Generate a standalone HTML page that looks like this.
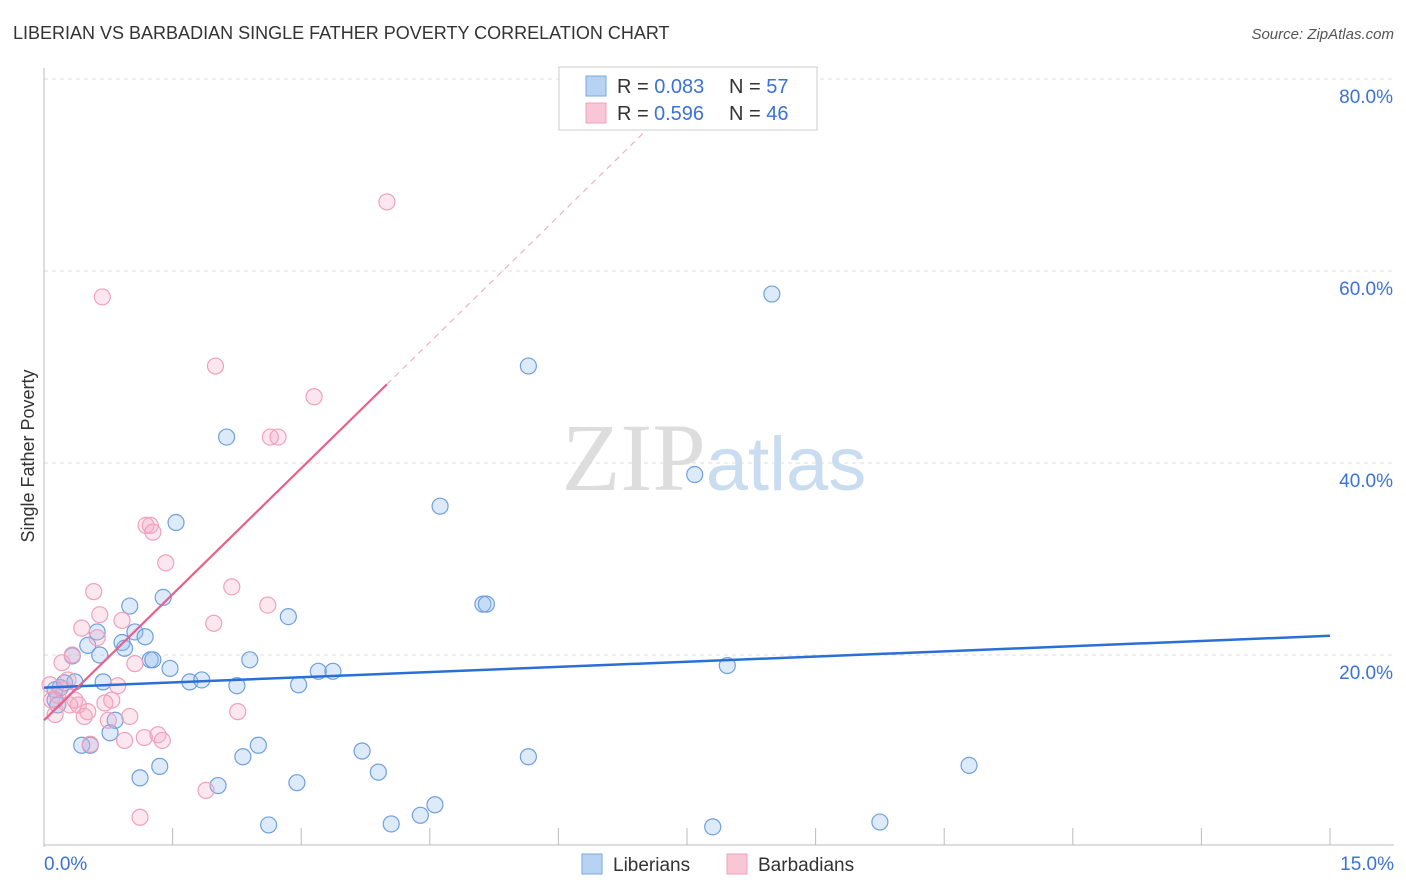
<!DOCTYPE html>
<html><head><meta charset="utf-8"><style>
body{margin:0;background:#fff;font-family:"Liberation Sans",sans-serif;}
svg{display:block}
</style></head><body>
<svg id="chart" width="1406" height="892" xmlns="http://www.w3.org/2000/svg">
<text x="13" y="39" font-size="18" fill="#333" font-family="Liberation Sans">LIBERIAN VS BARBADIAN SINGLE FATHER POVERTY CORRELATION CHART</text>
<text x="1394" y="39" font-size="15" fill="#555" text-anchor="end" font-style="italic">Source: ZipAtlas.com</text>
<text x="714" y="490" font-size="96" text-anchor="middle" fill="#ddd" font-family="Liberation Serif">ZIP<tspan fill="#c9dcf0" font-family="Liberation Sans" font-size="76">atlas</tspan></text>
<g id="grid"></g><g id="axes"></g><g id="marks"></g>
<text transform="translate(34,456) rotate(-90)" font-size="18" fill="#333" text-anchor="middle">Single Father Poverty</text>
<g>
<rect x="559" y="67" width="258" height="63" fill="#fff" stroke="#ccc"/>
<rect x="586" y="76" width="20" height="20" fill="#b8d2f4" stroke="#7aa8e0"/>
<rect x="586" y="103" width="20" height="20" fill="#f9c6d6" stroke="#f0a0bc"/>
<text x="617" y="93" font-size="20" fill="#333">R = <tspan fill="#3a72d8">0.083</tspan><tspan x="729">N = </tspan><tspan fill="#3a72d8">57</tspan></text>
<text x="617" y="120" font-size="20" fill="#333">R = <tspan fill="#3a72d8" x="654">0.596</tspan><tspan x="729">N = </tspan><tspan fill="#3a72d8">46</tspan></text>
</g>
<g><rect x="582" y="854" width="20" height="20" fill="#b8d2f4" stroke="#7aa8e0"/><text x="613" y="871" font-size="19" fill="#333">Liberians</text></g>
<g><rect x="727" y="854" width="20" height="20" fill="#f9c6d6" stroke="#f0a0bc"/><text x="758" y="871" font-size="19" fill="#333">Barbadians</text></g>
</svg>
<script>
const xTicks=[0,15];
const yTicks=[20,40,60,80];
const libX=[0.13,0.13,0.16,0.19,0.24,0.33,0.36,0.44,0.51,0.54,0.62,0.65,0.69,0.77,0.83,0.91,0.94,1.00,1.06,1.12,1.18,1.24,1.27,1.35,1.39,1.47,1.54,1.70,1.84,2.03,2.13,2.25,2.32,2.40,2.50,2.62,2.85,2.95,2.97,3.20,3.37,3.71,3.90,4.05,4.39,4.56,4.62,5.12,5.16,5.65,5.65,7.59,7.80,7.97,8.49,9.75,10.79];
const libY=[16.4,15.3,14.8,16.6,17.1,19.9,17.2,10.6,21.0,10.6,22.4,20.0,17.2,11.9,13.2,21.3,20.7,25.1,22.4,7.2,21.9,19.5,19.5,8.4,26.0,18.6,33.8,17.2,17.4,6.4,42.7,16.8,9.4,19.5,10.6,2.3,24.0,6.7,16.9,18.3,18.3,10.0,7.8,2.4,3.3,4.4,35.5,25.3,25.3,50.1,9.4,38.8,2.1,18.9,57.6,2.6,8.5];
const barX=[0.07,0.09,0.13,0.16,0.21,0.24,0.28,0.30,0.33,0.36,0.40,0.44,0.47,0.51,0.54,0.58,0.62,0.65,0.68,0.71,0.75,0.79,0.86,0.91,0.94,1.00,1.06,1.12,1.17,1.19,1.24,1.27,1.33,1.38,1.42,1.89,1.98,2.00,2.19,2.26,2.61,2.64,2.73,3.15,4.00];
const barY=[16.9,15.3,13.8,15.8,19.2,16.4,17.4,14.8,20.0,15.3,14.8,22.8,13.6,14.1,10.7,26.6,21.8,24.2,57.3,15.0,13.2,15.3,16.8,23.6,11.1,13.6,19.1,3.1,11.4,33.5,33.5,32.8,11.7,11.1,29.6,5.9,23.3,50.1,27.1,14.1,25.2,42.7,42.7,46.9,67.2];
const libTrend=[16.6,22.0];
const barTrend=[13.2,8.75];
const X=v=>44+v/15*1286, Y=v=>847-v*9.6;
const NS="http://www.w3.org/2000/svg";
function mk(t,a,p){const e=document.createElementNS(NS,t);for(const k in a)e.setAttribute(k,a[k]);document.getElementById(p).appendChild(e);return e;}
yTicks.forEach(v=>{
 const l=mk('line',{x1:44,x2:1394,y1:Y(v),y2:Y(v),stroke:'#ddd','stroke-dasharray':'4,4'},'grid');
 
 
 const t=mk('text',{x:1393,y:Y(v)+24,'font-size':19,fill:'#3a72d8','text-anchor':'end'},'axes');
 t.textContent=v.toFixed(1)+'%';
 
 
});
mk('line',{x1:44,x2:44,y1:68,y2:847,stroke:'#bbb'},'axes');
mk('line',{x1:44,x2:1394,y1:845,y2:845,stroke:'#bbb'},'axes');
for(let i=1;i<=10;i++){mk('line',{x1:X(i*1.5),x2:X(i*1.5),y1:828,y2:845,stroke:'#bbb'},'axes');}
xTicks.forEach((v,i)=>{
 const t=mk('text',{x:i==0?44:1394,y:870,'font-size':19,fill:'#3a72d8','text-anchor':i==0?'start':'end'},'axes');
 t.textContent=v.toFixed(1)+'%';
 
 
});
libX.forEach((x,i)=>{
 const c=mk('circle',{cx:X(x),cy:Y(libY[i]),r:8,fill:'rgba(150,190,240,0.32)',stroke:'#6f9fdd','stroke-width':1.2},'marks');
 
 
});
barX.forEach((x,i)=>{
 const c=mk('circle',{cx:X(x),cy:Y(barY[i]),r:8,fill:'rgba(245,170,195,0.28)',stroke:'#f0a0bc','stroke-width':1.2},'marks');
 
 
});
const bl=mk('line',{x1:X(0),y1:Y(libTrend[0]),x2:X(15),y2:Y(libTrend[1]),stroke:'#2a6fd6','stroke-width':2.5},'marks');


const bmax=Math.max(...barX);
const pl=mk('line',{x1:X(0),y1:Y(barTrend[0]),x2:X(bmax),y2:Y(barTrend[0]+barTrend[1]*bmax),stroke:'#e8608a','stroke-width':2.2},'marks');


const xe=(80-barTrend[0])/barTrend[1];
const pd=mk('line',{x1:X(bmax),y1:Y(barTrend[0]+barTrend[1]*bmax),x2:X(xe),y2:Y(80),stroke:'#f0b0c4','stroke-width':1.2,'stroke-dasharray':'6,5'},'marks');


</script>
</body></html>
